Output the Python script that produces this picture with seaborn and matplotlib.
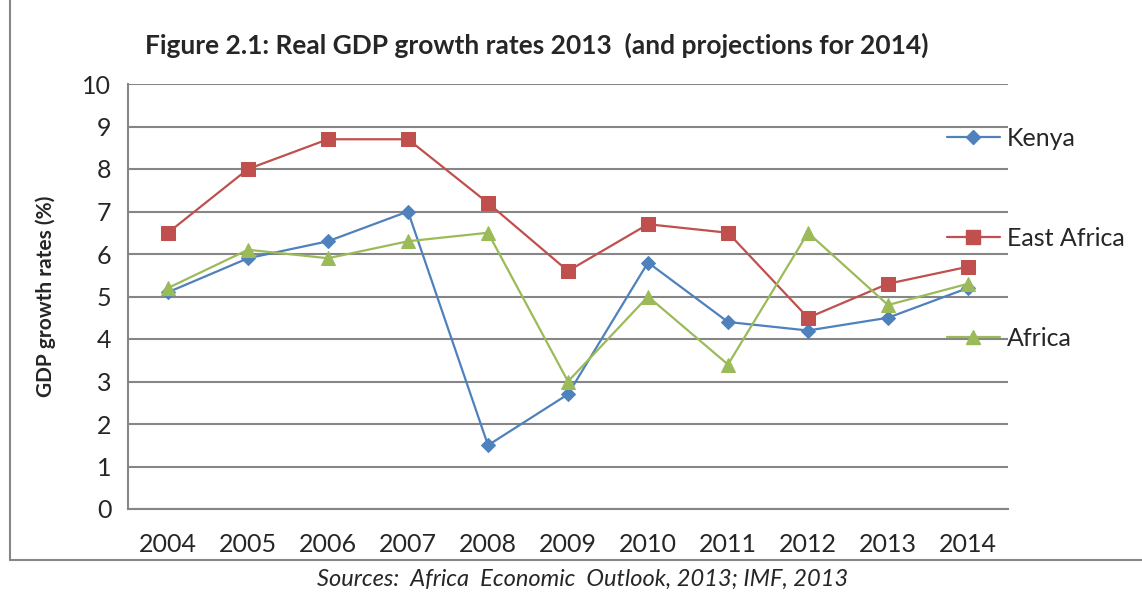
import matplotlib
matplotlib.use("Agg")
import matplotlib.pyplot as plt
import seaborn as sns
import pandas as pd
from matplotlib.lines import Line2D

years = [2004, 2005, 2006, 2007, 2008, 2009, 2010, 2011, 2012, 2013, 2014]
kenya = [5.1, 5.9, 6.3, 7.0, 1.5, 2.7, 5.8, 4.4, 4.2, 4.5, 5.2]
east_africa = [6.5, 8.0, 8.7, 8.7, 7.2, 5.6, 6.7, 6.5, 4.5, 5.3, 5.7]
africa = [5.2, 6.1, 5.9, 6.3, 6.5, 3.0, 5.0, 3.4, 6.5, 4.8, 5.3]
series_names = ["Kenya", "East Africa", "Africa"]
yticks = [0, 1, 2, 3, 4, 5, 6, 7, 8, 9, 10]

colors = {"Kenya": "#4F81BD", "East Africa": "#C0504D", "Africa": "#9BBB59"}
markers = {"Kenya": "D", "East Africa": "s", "Africa": "^"}
msizes = {"Kenya": 7.5, "East Africa": 9.5, "Africa": 10}

df = pd.DataFrame({
    "year": years * 3,
    "value": kenya + east_africa + africa,
    "series": ["Kenya"] * 11 + ["East Africa"] * 11 + ["Africa"] * 11,
})

sns.set_style("white")
plt.rcParams["font.family"] = ["Lato", "DejaVu Sans"]

fig = plt.figure(figsize=(11.42, 5.94), dpi=100)
ax = fig.add_axes([128 / 1142, 1 - 509 / 594, 880 / 1142, 425 / 594])

grid_c = "#868686"
for name in series_names:
    sub = df[df["series"] == name]
    sns.lineplot(data=sub, x="year", y="value", ax=ax, color=colors[name],
                 marker=markers[name], markersize=msizes[name], linewidth=1.6,
                 markeredgecolor=colors[name], label=name, legend=False)

ax.set_xlim(2003.5, 2014.5)
ax.set_ylim(0, 10)
ax.set_yticks(yticks)
ax.set_xticks(years)
ax.set_xticks([y - 0.5 for y in years] + [2014.5], minor=True)
ax.tick_params(axis="x", which="major", length=0, pad=17, labelsize=18)
ax.tick_params(axis="x", which="minor", length=8, width=1.5, color=grid_c, direction="out")
ax.tick_params(axis="y", length=6, width=1.5, color=grid_c, labelsize=18, pad=6, direction="out")
ax.yaxis.grid(True, color=grid_c, linewidth=1.5)
ax.set_axisbelow(True)
for s in ["top", "right"]:
    ax.spines[s].set_visible(False)
for s in ["left", "bottom"]:
    ax.spines[s].set_color(grid_c)
    ax.spines[s].set_linewidth(1.5)

ax.set_xlabel("")
ax.set_ylabel("GDP growth rates (%)", fontsize=15, fontweight="bold")
ax.yaxis.set_label_coords(-0.082, 0.5)

handles = [Line2D([0], [0], color=colors[n], marker=markers[n], markersize=msizes[n],
                  linewidth=1.6, markeredgecolor=colors[n]) for n in series_names]
leg = fig.legend(handles, series_names, loc="upper left",
                 bbox_to_anchor=(947 / 1142, 1 - 127 / 594), frameon=False,
                 fontsize=18, labelspacing=3.08, handlelength=2.1,
                 handletextpad=0.3, borderaxespad=0, borderpad=0)

fig.text(537 / 1142, 1 - 45 / 594, "Figure 2.1: Real GDP growth rates 2013  (and projections for 2014)",
         ha="center", va="center", fontsize=19, fontweight="bold")
fig.text(583 / 1142, 1 - 579 / 594, "Sources:  Africa  Economic  Outlook, 2013; IMF, 2013",
         ha="center", va="center", fontsize=17, style="italic")

fy = 1 - 560 / 594
fig.add_artist(Line2D([10 / 1142, 10 / 1142], [1.0, fy], color=grid_c, linewidth=1.5,
                      transform=fig.transFigure))
fig.add_artist(Line2D([10 / 1142, 1.0], [fy, fy], color=grid_c, linewidth=1.5,
                      transform=fig.transFigure))

fig.savefig("out.png", dpi=100)
